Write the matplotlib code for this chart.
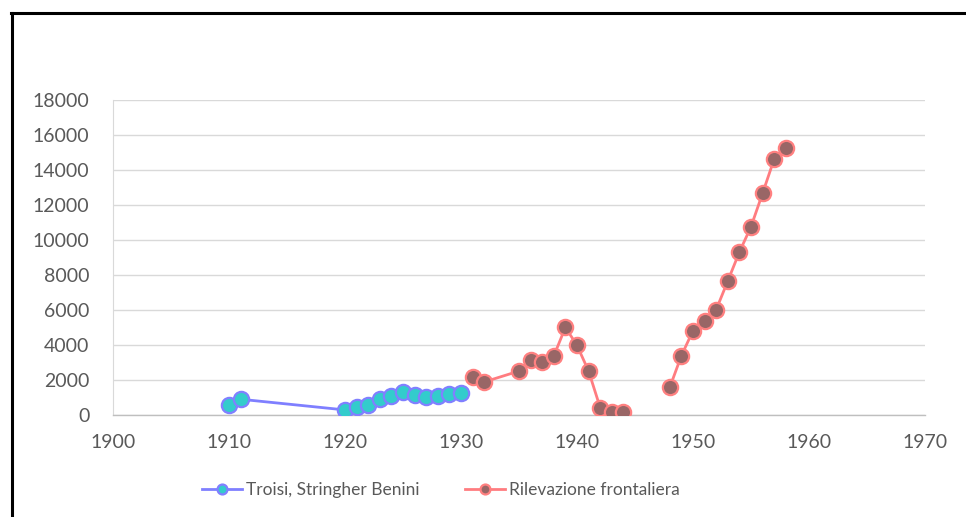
import matplotlib.pyplot as plt
from matplotlib.lines import Line2D

# Troisi, Stringher Benini
years_tsb = [1910, 1911, 1920, 1921, 1922, 1923, 1924, 1925, 1926, 1927, 1928, 1929, 1930]
vals_tsb = [580, 900, 290, 480, 580, 910, 1080, 1310, 1120, 1050, 1080, 1200, 1240]

# Rilevazione frontaliera
years_rf = [1931, 1932, 1935, 1936, 1937, 1938, 1939, 1940, 1941, 1942, 1943, 1944,
            None,
            1948, 1949, 1950, 1951, 1952, 1953, 1954, 1955, 1956, 1957, 1958]
vals_rf = [2150, 1890, 2510, 3120, 3010, 3370, 5010, 3980, 2510, 420, 170, 190,
           None,
           1580, 3390, 4820, 5390, 6020, 7660, 9310, 10760, 12670, 14630, 15280]

x_ticks = [1900, 1910, 1920, 1930, 1940, 1950, 1960, 1970]
y_ticks = list(range(0, 18001, 2000))

plt.rcParams["font.family"] = ["Lato", "DejaVu Sans"]

fig = plt.figure(figsize=(9.66, 5.17), dpi=100)
ax = fig.add_axes([113 / 966, 1 - 415 / 517, 812 / 966, 315 / 517])

xr = [float("nan") if y is None else y for y in years_rf]
vr = [float("nan") if v is None else v for v in vals_rf]

ax.plot(years_tsb, vals_tsb, color="#7F7FFF", lw=2, marker="o", ms=11,
        mfc="#33CCCC", mec="#8080FF", mew=1.6, label="Troisi, Stringher Benini", zorder=3)
ax.plot(xr, vr, color="#FF7C80", lw=2, marker="o", ms=11,
        mfc="#996666", mec="#FF8080", mew=1.6, label="Rilevazione frontaliera", zorder=3)

ax.set_xlim(1900, 1970)
ax.set_ylim(0, 18000)
ax.set_xticks(x_ticks)
ax.set_yticks(y_ticks)
ax.yaxis.grid(True, color="#D9D9D9", lw=1)
ax.set_axisbelow(True)
for s in ["top", "right"]:
    ax.spines[s].set_visible(False)
ax.spines["left"].set_color("#D9D9D9")
ax.spines["bottom"].set_color("#BFBFBF")
ax.spines["bottom"].set_linewidth(1)
ax.tick_params(length=0, labelsize=14, labelcolor="#595959")
ax.tick_params(axis="y", pad=17)
ax.tick_params(axis="x", pad=14)

fig.legend(loc="center", bbox_to_anchor=(441 / 966, 1 - 490 / 517), ncol=2,
           frameon=False, fontsize=12.5, markerscale=0.65, handlelength=2.3,
           handletextpad=0.25, columnspacing=2.6, labelcolor="#595959")

# chart border (left and top visible)
fig.add_artist(Line2D([12 / 966, 12 / 966], [0, 1 - 13 / 517], color="black", lw=2.2,
                      transform=fig.transFigure))
fig.add_artist(Line2D([11 / 966, 1], [1 - 13 / 517, 1 - 13 / 517], color="black", lw=2.2,
                      transform=fig.transFigure))

fig.savefig("out.png", dpi=100)
